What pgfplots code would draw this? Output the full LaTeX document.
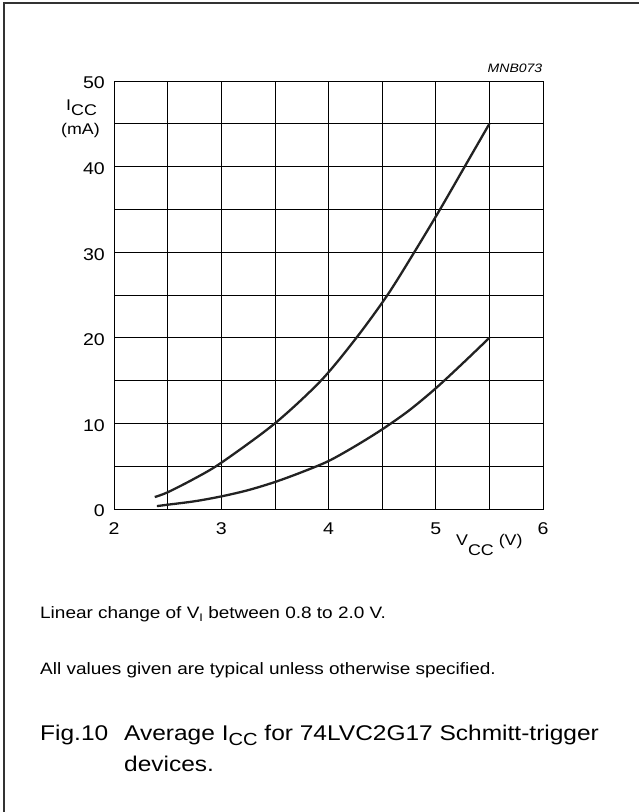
\documentclass[border=0pt]{standalone}
\usepackage{pgfplots}
\pgfplotsset{compat=1.18}
\usepackage{fontspec}
\setmainfont{Liberation Sans}[FakeStretch=1.15]
\definecolor{framec}{HTML}{333333}
\definecolor{curvec}{HTML}{222222}
\begin{document}
\begin{tikzpicture}[x=1pt,y=1pt]
\path[use as bounding box] (0,0) rectangle (639,812);
\draw[framec, line width=2pt] (4,0) -- (4,809) -- (639,809);
\begin{axis}[at={(114pt,303pt)}, anchor=south west, scale only axis,
  width=429pt, height=428pt,
  xmin=2, xmax=6, ymin=0, ymax=50,
  xtick={2,3,4,5,6}, ytick={0,10,20,30,40,50},
  minor x tick num=1, minor y tick num=1,
  grid=both,
  major grid style={black, line width=0.7pt},
  minor grid style={black, line width=0.7pt},
  axis line style={black, line width=0.8pt},
  major tick length=0pt, minor tick length=0pt,
  /pgf/number format/assume math mode=true,
  ticklabel style={font=\fontsize{17}{17}\selectfont},
  xticklabel style={anchor=base, inner sep=0pt, yshift=-25.5pt},
  yticklabel style={anchor=east, inner sep=0pt, xshift=-9pt, yshift=-2pt},
  clip=false]
\addplot[curvec, line width=2.3pt, smooth] coordinates {
 (2.38,1.4) (2.5,1.95) (2.75,3.55) (3,5.4) (3.5,10) (3.93,15) (4.26,20)
 (4.55,25) (4.8,30) (5.04,35) (5.27,40) (5.5,45)};
\addplot[curvec, line width=2.3pt, smooth] coordinates {
 (2.4,0.34) (2.5,0.5) (2.75,0.9) (3,1.47) (3.25,2.2) (3.5,3.15) (3.75,4.3)
 (4,5.6) (4.25,7.35) (4.5,9.3) (4.75,11.5) (5,14.1) (5.25,17) (5.5,20)};
\end{axis}
\node[anchor=base east, inner sep=0pt] at (542.5,739.3) {\fontsize{12.2}{12.2}\selectfont\itshape MNB073};
\node[anchor=base west, inner sep=0pt] at (66,701) {\fontsize{15.5}{15.5}\selectfont I\raisebox{-5pt}{CC}};
\node[anchor=base west, inner sep=0pt] at (61,677.5) {\fontsize{15.5}{15.5}\selectfont (mA)};
\node[anchor=base west, inner sep=0pt] at (456,266) {\fontsize{15.5}{15.5}\selectfont V\raisebox{-10pt}{CC} (V)};
\node[anchor=base west, inner sep=0pt] at (40,193) {\fontsize{16.5}{16.5}\selectfont Linear change of V\raisebox{-3pt}{\fontsize{11}{11}\selectfont I} between 0.8 to 2.0 V.};
\node[anchor=base west, inner sep=0pt] at (40,137) {\fontsize{16.5}{16.5}\selectfont All values given are typical unless otherwise specified.};
\node[anchor=base west, inner sep=0pt] at (40,71) {\fontsize{21.3}{21.3}\selectfont Fig.10};
\node[anchor=base west, inner sep=0pt] at (124,71) {\fontsize{21.3}{21.3}\selectfont Average I\raisebox{-5pt}{\fontsize{17.5}{17.5}\selectfont CC} for 74LVC2G17 Schmitt-trigger};
\node[anchor=base west, inner sep=0pt] at (124,41) {\fontsize{21.3}{21.3}\selectfont devices.};
\end{tikzpicture}
\end{document}
